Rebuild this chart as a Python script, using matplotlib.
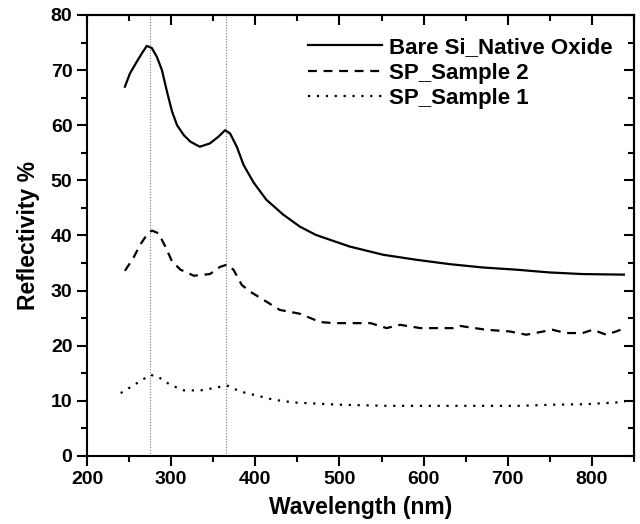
import matplotlib
matplotlib.use('Agg')
import matplotlib.pyplot as plt
from matplotlib.ticker import MultipleLocator

plt.rcParams['font.family'] = ['Liberation Sans', 'DejaVu Sans']
plt.rcParams['font.weight'] = 'bold'

# Bare Si with native oxide (solid)
bare_nm = [245, 251, 259, 265, 271, 277, 283, 289, 295, 301, 307, 315, 323, 334, 346,
           356, 364, 370, 378, 386, 398, 413, 433, 453, 472, 512, 552, 591, 631, 670,
           710, 749, 789, 838]
bare_r = [67.0, 69.4, 71.5, 73.0, 74.4, 74.0, 72.4, 70.0, 66.1, 62.5, 60.0, 58.2, 57.0,
          56.1, 56.7, 57.9, 59.1, 58.5, 56.1, 52.8, 49.6, 46.5, 43.8, 41.6, 40.1, 38.0,
          36.5, 35.6, 34.8, 34.2, 33.8, 33.3, 33.0, 32.9]

# SP_Sample 2 (dashed)
s2_nm = [245, 255, 263, 271, 277, 285, 293, 301, 311, 327, 346, 358, 366, 374, 384,
         394, 410, 429, 453, 477, 493, 537, 556, 572, 596, 615, 635, 643, 674, 702,
         722, 753, 769, 789, 801, 817, 829, 839]
s2_r = [33.6, 35.9, 38.3, 40.1, 40.9, 40.4, 38.0, 35.3, 33.8, 32.7, 33.0, 34.3, 34.7,
        33.8, 31.0, 29.8, 28.3, 26.5, 25.8, 24.3, 24.1, 24.1, 23.2, 23.8, 23.2, 23.2,
        23.2, 23.6, 22.9, 22.6, 22.0, 22.9, 22.3, 22.3, 22.9, 22.0, 22.6, 23.2]

# SP_Sample 1 (dotted)
s1_nm = [240, 255, 275, 283, 299, 315, 335, 350, 366, 382, 398, 422, 446, 473, 500, 556,
         635, 714, 753, 793, 839]
s1_r = [11.4, 12.8, 14.7, 14.5, 12.9, 11.9, 11.9, 12.3, 12.8, 11.7, 11.1, 10.2, 9.7, 9.5,
        9.3, 9.1, 9.1, 9.1, 9.3, 9.4, 9.8]

peak_lines = [275, 365]

fig = plt.figure(figsize=(6.4, 5.24), dpi=100)
ax = fig.add_axes([0.136, 0.1298, 0.8546, 0.8416])

for x in peak_lines:
    ax.axvline(x, color='#777777', linewidth=0.8, linestyle=(0, (1, 1.5)), zorder=1)

ax.plot(bare_nm, bare_r, color='black', linewidth=1.6, label='Bare Si_Native Oxide')
ax.plot(s2_nm, s2_r, color='black', linewidth=1.6, linestyle=(0, (4, 3)),
        label='SP_Sample 2')
ax.plot(s1_nm, s1_r, color='black', linewidth=1.6, linestyle=(0, (1, 3)),
        label='SP_Sample 1')

ax.set_xlim(200, 850)
ax.set_ylim(0, 80)
ax.xaxis.set_major_locator(MultipleLocator(100))
ax.xaxis.set_minor_locator(MultipleLocator(50))
ax.yaxis.set_major_locator(MultipleLocator(10))
ax.yaxis.set_minor_locator(MultipleLocator(5))
ax.tick_params(which='major', direction='out', length=7, width=1.5, labelsize=14)
ax.tick_params(which='minor', direction='out', length=4, width=1.5)
for s in ax.spines.values():
    s.set_linewidth(1.5)

# mirrored ticks on top and right point into the plot
top = ax.secondary_xaxis('top')
right = ax.secondary_yaxis('right')
for sec in (top, right):
    sec.tick_params(which='major', direction='in', length=7, width=1.5, labelsize=0)
    sec.tick_params(which='minor', direction='in', length=4, width=1.5)
    sec.spines[:].set_linewidth(1.5)
top.xaxis.set_major_locator(MultipleLocator(100))
top.xaxis.set_minor_locator(MultipleLocator(50))
top.set_xticklabels([])
right.yaxis.set_major_locator(MultipleLocator(10))
right.yaxis.set_minor_locator(MultipleLocator(5))
right.set_yticklabels([])

ax.set_xlabel('Wavelength (nm)', fontsize=16.5, fontweight='bold', labelpad=6)
ax.set_ylabel('Reflectivity %', fontsize=16.5, fontweight='bold', labelpad=8)

ax.legend(loc='upper right', frameon=False, fontsize=16, handlelength=3.3,
          handletextpad=0.35, labelspacing=0.2, borderaxespad=0.3,
          bbox_to_anchor=(0.99, 0.985))

fig.savefig('out.png')
